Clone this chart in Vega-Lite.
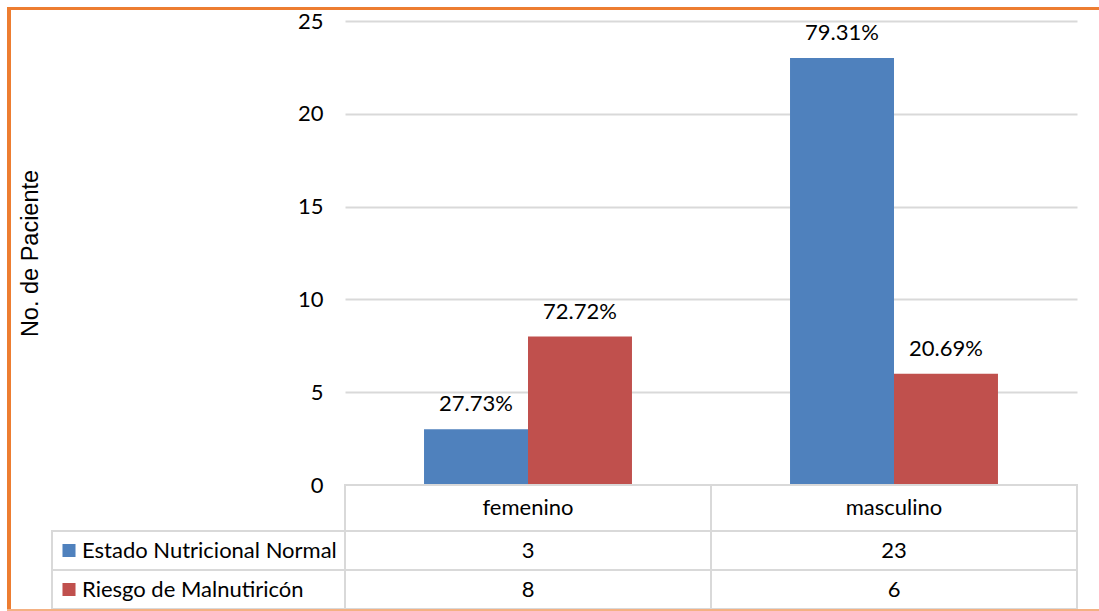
{
  "$schema": "https://vega.github.io/schema/vega-lite/v6.json",
  "padding": {"left": 7, "top": 7, "right": 0, "bottom": 0},
  "background": "#ffffff",
  "columns": 4,
  "spacing": 0,
  "bounds": "flush",
  "align": "each",
  "config": {
    "view": {"stroke": null},
    "font": "Lato",
    "text": {"font": "Lato", "fontSize": 22, "color": "#000000"}
  },
  "datasets": {
    "d": [
      {"sexo": "femenino", "estado": "Estado Nutricional Normal", "n": 3, "pct": "27.73%"},
      {"sexo": "femenino", "estado": "Riesgo de Malnutiricón", "n": 8, "pct": "72.72%"},
      {"sexo": "masculino", "estado": "Estado Nutricional Normal", "n": 23, "pct": "79.31%"},
      {"sexo": "masculino", "estado": "Riesgo de Malnutiricón", "n": 6, "pct": "20.69%"}
    ]
  },
  "concat": [
    {"width": 4, "height": 3, "data": {"values": [{}]}, "mark": {"type": "rect", "color": "#ed7d31"}, "encoding": {}},
    {"width": 41, "height": 3, "data": {"values": [{}]}, "mark": {"type": "rect", "color": "#ed7d31"}, "encoding": {}},
    {"width": 293, "height": 3, "data": {"values": [{}]}, "mark": {"type": "rect", "color": "#ed7d31"}, "encoding": {}},
    {"width": 754, "height": 3, "data": {"values": [{}]}, "mark": {"type": "rect", "color": "#ed7d31"}, "encoding": {}},

    {"width": 4, "height": 11, "data": {"values": [{}]}, "mark": {"type": "rect", "color": "#ed7d31"}, "encoding": {}},
    {"width": 1, "height": 1, "data": {"values": [{}]}, "mark": {"type": "rect", "opacity": 0}, "encoding": {}},
    {"width": 1, "height": 1, "data": {"values": [{}]}, "mark": {"type": "rect", "opacity": 0}, "encoding": {}},
    {"width": 1, "height": 1, "data": {"values": [{}]}, "mark": {"type": "rect", "opacity": 0}, "encoding": {}},

    {"width": 4, "height": 464, "data": {"values": [{}]}, "mark": {"type": "rect", "color": "#ed7d31"}, "encoding": {}},
    {"width": 1, "height": 1, "data": {"values": [{}]}, "mark": {"type": "rect", "opacity": 0}, "encoding": {}},
    {"width": 1, "height": 1, "data": {"values": [{}]}, "mark": {"type": "rect", "opacity": 0}, "encoding": {}},
    {
      "width": 732,
      "height": 464,
      "data": {"name": "d"},
      "encoding": {
        "x": {"field": "sexo", "type": "nominal", "axis": null, "scale": {"domain": ["femenino", "masculino"], "paddingInner": 0, "paddingOuter": 0}},
        "xOffset": {"field": "estado", "type": "nominal", "scale": {"domain": ["Estado Nutricional Normal", "Riesgo de Malnutiricón"], "paddingInner": 0, "paddingOuter": 0.76}},
        "y": {
          "field": "n",
          "type": "quantitative",
          "scale": {"domain": [0, 25]},
          "axis": {
            "values": [0, 5, 10, 15, 20, 25],
            "domain": false,
            "ticks": false,
            "tickSize": 0,
            "labelPadding": 22,
            "labelFont": "Lato",
            "labelFontSize": 22,
            "labelColor": "#000000",
            "grid": true,
            "gridColor": "#d9d9d9",
            "gridWidth": 2,
            "title": "No. de Paciente",
            "titleFont": "Liberation Sans",
            "titleFontSize": 23.5,
            "titleFontWeight": "normal",
            "titleColor": "#000000",
            "titlePadding": 255
          }
        }
      },
      "layer": [
        {
          "mark": {"type": "bar"},
          "encoding": {
            "color": {"field": "estado", "type": "nominal", "scale": {"domain": ["Estado Nutricional Normal", "Riesgo de Malnutiricón"], "range": ["#4f81bd", "#c0504d"]}, "legend": null}
          }
        },
        {
          "mark": {"type": "text", "dy": -25, "baseline": "middle", "fontSize": 22, "color": "#000000"},
          "encoding": {"text": {"field": "pct"}}
        }
      ]
    },

    {"width": 4, "height": 46, "data": {"values": [{}]}, "mark": {"type": "rect", "color": "#ed7d31"}, "encoding": {}},
    {"width": 1, "height": 1, "data": {"values": [{}]}, "mark": {"type": "rect", "opacity": 0}, "encoding": {}},
    {"width": 1, "height": 1, "data": {"values": [{}]}, "mark": {"type": "rect", "opacity": 0}, "encoding": {}},
    {
      "width": 732,
      "height": 46,
      "data": {"name": "d"},
      "transform": [{"aggregate": [{"op": "sum", "field": "n", "as": "total"}], "groupby": ["sexo"]}],
      "encoding": {
        "x": {"field": "sexo", "type": "nominal", "axis": null, "scale": {"domain": ["femenino", "masculino"], "paddingInner": 0, "paddingOuter": 0}}
      },
      "layer": [
        {"mark": {"type": "rect", "fill": "#ffffff", "stroke": "#d9d9d9", "strokeWidth": 2}},
        {"mark": {"type": "text", "baseline": "middle", "fontSize": 22, "color": "#000000"}, "encoding": {"text": {"field": "sexo"}}}
      ]
    },

    {"width": 4, "height": 78, "data": {"values": [{}]}, "mark": {"type": "rect", "color": "#ed7d31"}, "encoding": {}},
    {"width": 1, "height": 1, "data": {"values": [{}]}, "mark": {"type": "rect", "opacity": 0}, "encoding": {}},
    {
      "width": 293,
      "height": 78,
      "data": {"name": "d"},
      "transform": [{"aggregate": [{"op": "sum", "field": "n", "as": "total"}], "groupby": ["estado"]}],
      "encoding": {
        "y": {"field": "estado", "type": "nominal", "axis": null, "scale": {"domain": ["Estado Nutricional Normal", "Riesgo de Malnutiricón"], "paddingInner": 0, "paddingOuter": 0}}
      },
      "layer": [
        {"mark": {"type": "rect", "fill": "#ffffff", "stroke": "#d9d9d9", "strokeWidth": 2}},
        {
          "mark": {"type": "point", "shape": "square", "filled": true, "size": 170, "opacity": 1, "xOffset": -129.5},
          "encoding": {"color": {"field": "estado", "type": "nominal", "scale": {"domain": ["Estado Nutricional Normal", "Riesgo de Malnutiricón"], "range": ["#4f81bd", "#c0504d"]}, "legend": null}}
        },
        {
          "mark": {"type": "text", "align": "left", "baseline": "middle", "dx": -116.5, "fontSize": 22, "color": "#000000"},
          "encoding": {"text": {"field": "estado"}}
        }
      ]
    },
    {
      "width": 732,
      "height": 78,
      "data": {"name": "d"},
      "encoding": {
        "x": {"field": "sexo", "type": "nominal", "axis": null, "scale": {"domain": ["femenino", "masculino"], "paddingInner": 0, "paddingOuter": 0}},
        "y": {"field": "estado", "type": "nominal", "axis": null, "scale": {"domain": ["Estado Nutricional Normal", "Riesgo de Malnutiricón"], "paddingInner": 0, "paddingOuter": 0}}
      },
      "layer": [
        {"mark": {"type": "rect", "fill": "#ffffff", "stroke": "#d9d9d9", "strokeWidth": 2}},
        {"mark": {"type": "text", "baseline": "middle", "fontSize": 22, "color": "#000000"}, "encoding": {"text": {"field": "n"}}}
      ]
    },

    {"width": 4, "height": 2, "data": {"values": [{}]}, "mark": {"type": "rect", "color": "#f4b183"}, "encoding": {}},
    {"width": 41, "height": 2, "data": {"values": [{}]}, "mark": {"type": "rect", "color": "#f4b183"}, "encoding": {}},
    {"width": 293, "height": 2, "data": {"values": [{}]}, "mark": {"type": "rect", "color": "#f4b183"}, "encoding": {}},
    {"width": 754, "height": 2, "data": {"values": [{}]}, "mark": {"type": "rect", "color": "#f4b183"}, "encoding": {}}
  ]
}
